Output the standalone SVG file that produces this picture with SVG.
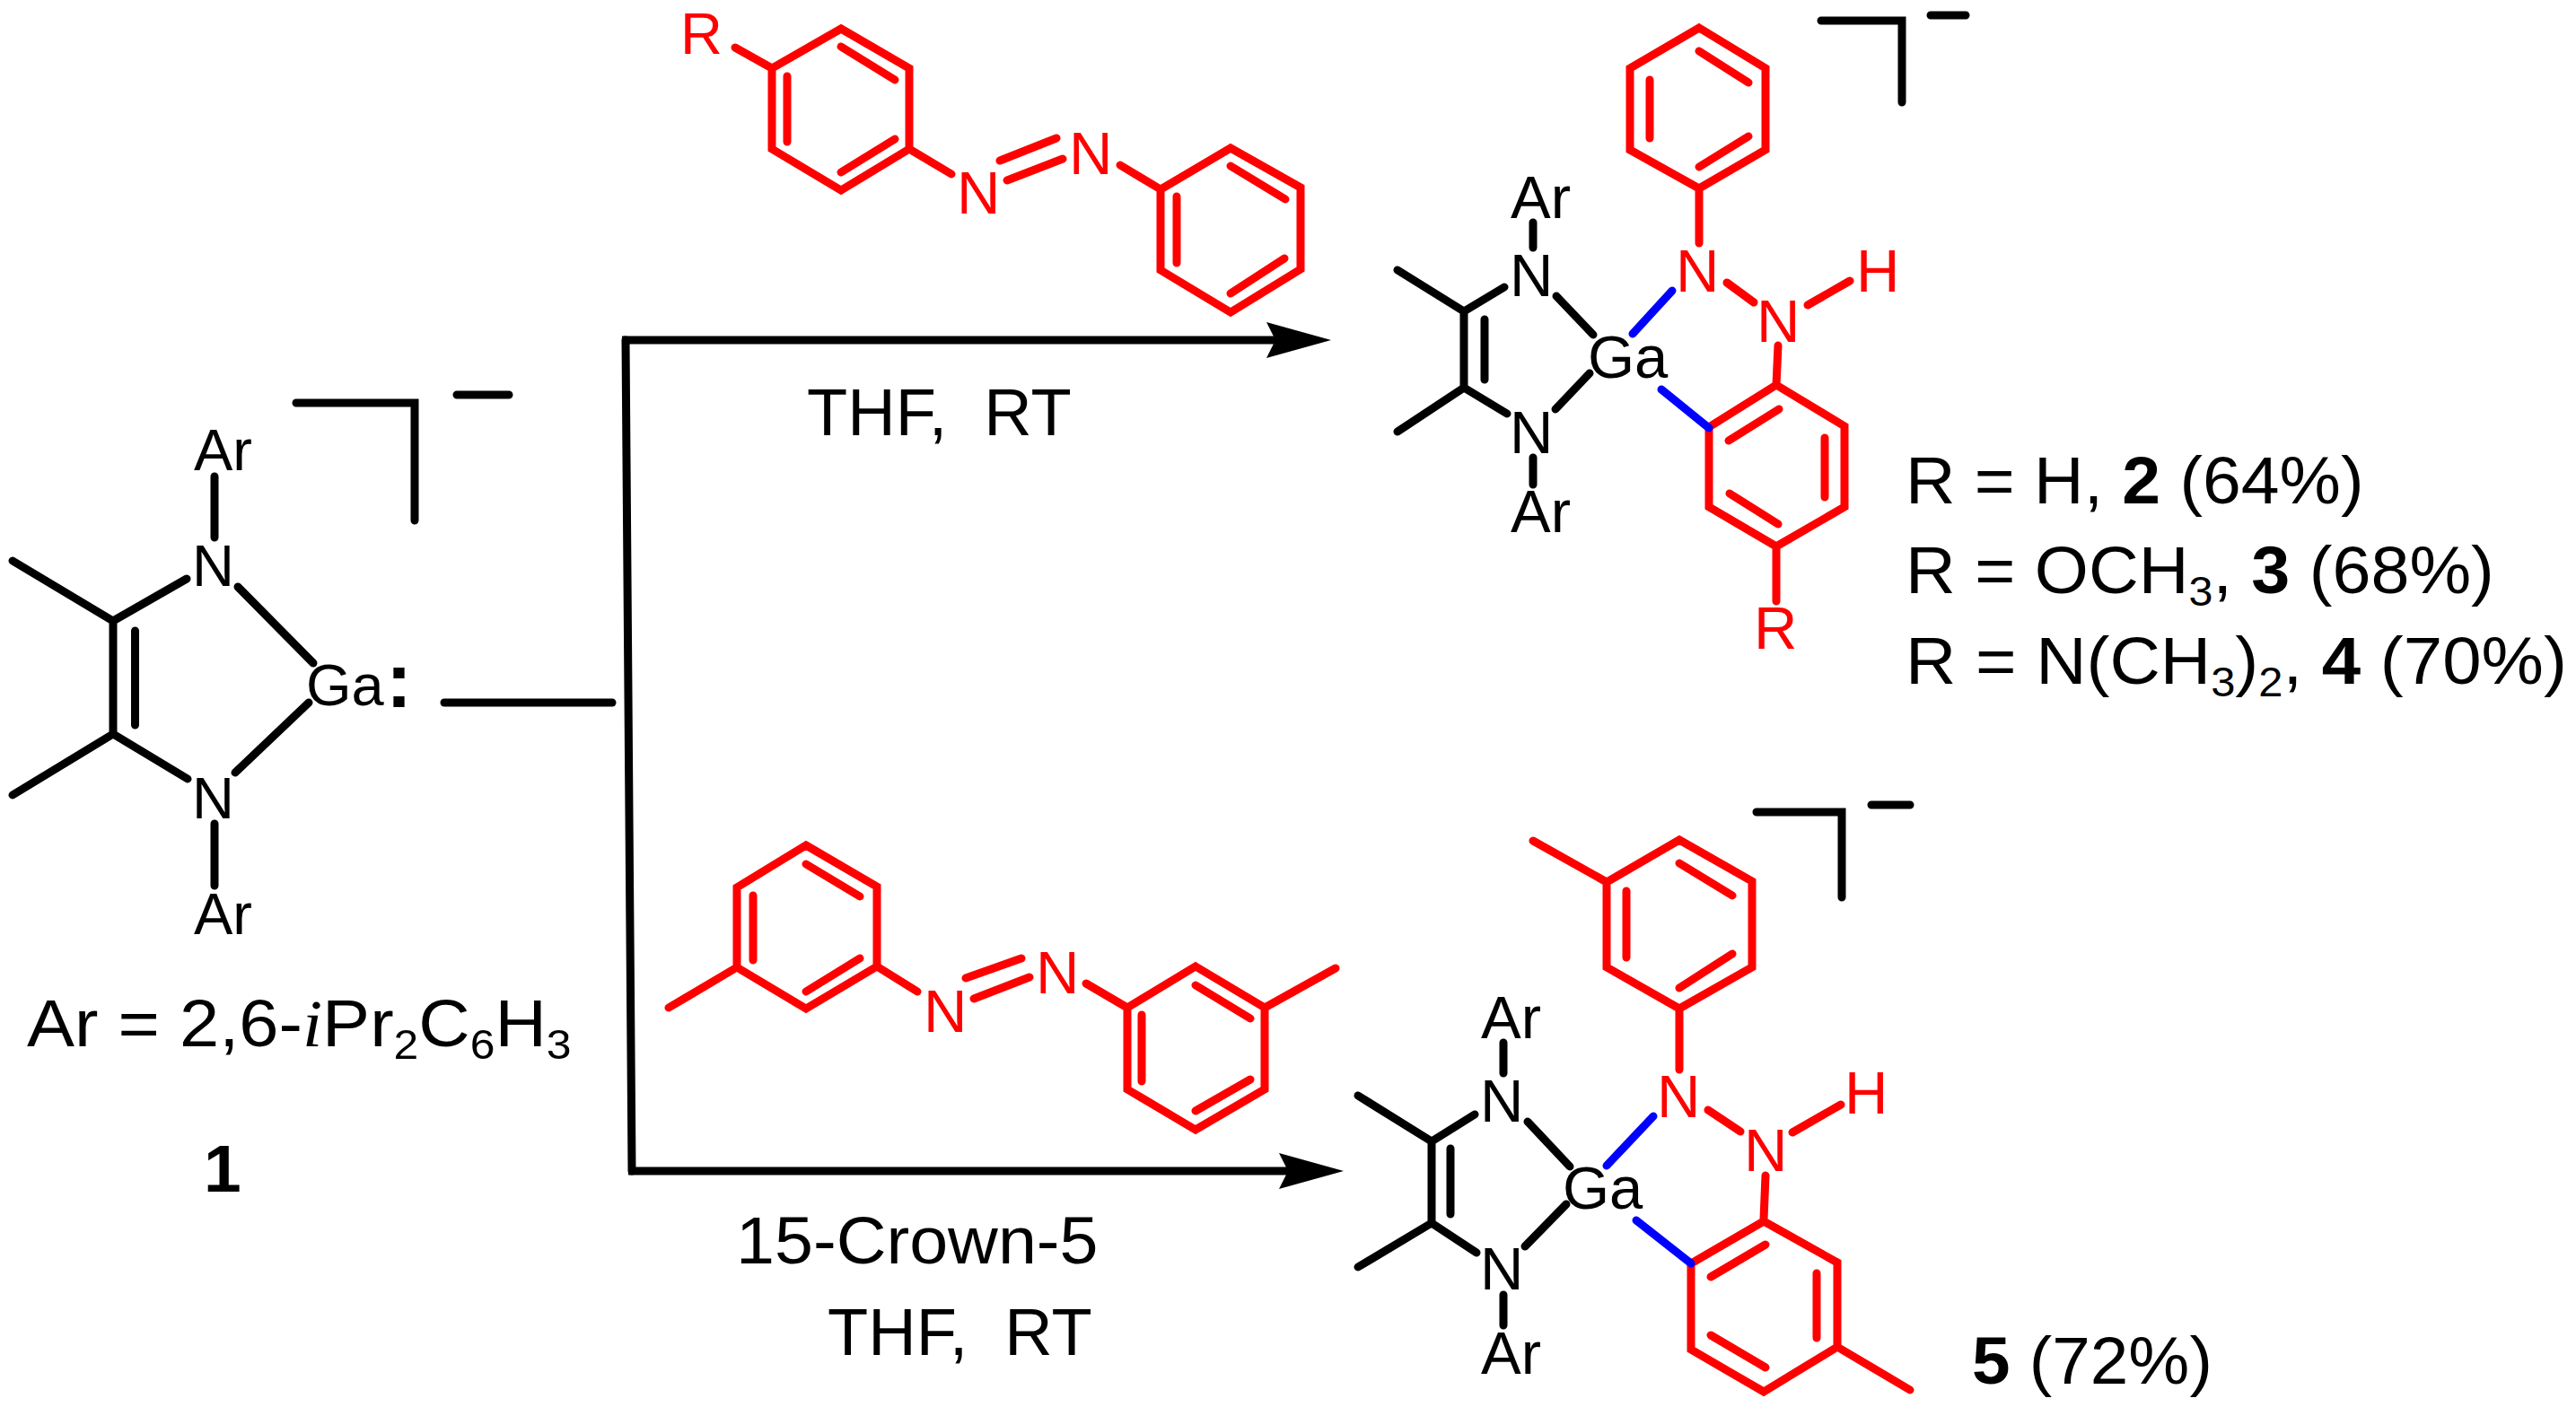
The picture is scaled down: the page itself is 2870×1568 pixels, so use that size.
<svg xmlns="http://www.w3.org/2000/svg" width="2870" height="1568" viewBox="0 0 2870 1568">
<defs>
<style>
text{font-family:"Liberation Sans",Arial,sans-serif;white-space:pre}
.a{font-size:65px}
.p{font-size:67px}
.l{font-size:75px}
.k{fill:#000}
.r{fill:#f00}
.s{font-size:47px}
.b{font-weight:bold}
.i{font-family:"Liberation Serif",serif;font-style:italic}
path{fill:none;stroke-width:9;stroke-linecap:round;stroke-linejoin:miter}
.bk{stroke:#000}
.rd{stroke:#f00}
.bl{stroke:#00f}
</style>
<marker id="head" viewBox="0 0 72 40" refX="10" refY="20" markerWidth="72" markerHeight="40" markerUnits="userSpaceOnUse" orient="auto">
<polygon points="0,0 72,20 0,40 10,20" fill="#000"/>
</marker>
</defs>
<rect width="2870" height="1568" fill="#fff"/>
<g id="connectors">
<path class="bk" d="M495 783H682"/>
<path class="bk" d="M697 379L704 1305"/>
<path class="bk" style="stroke-linecap:butt" d="M693 379H1421" marker-end="url(#head)"/>
<path class="bk" style="stroke-linecap:butt" d="M700 1305H1435" marker-end="url(#head)"/>
</g>
<g id="compound-1">
<path class="bk" d="M330 449H462V580M509 440H567"/>
<path class="bk" d="M239 531V599M14 625L126 692L208 645M126 692V818M150.500 703V808M14 886L126 818L209 868M265 654L349 739M344 783L262 861M239 918V987"/>
<text class="a k" x="216" y="524">Ar</text>
<text class="a k" x="214" y="653">N</text>
<text class="a k" x="341" y="786">Ga</text>
<text class="b k" style="font-size:87px" x="430" y="788">:</text>
<text class="a k" x="214" y="912">N</text>
<text class="a k" x="216" y="1041">Ar</text>
<text class="l k" transform="translate(30 1166) scale(1.06 1)">Ar = 2,6-<tspan class="i">i</tspan>Pr<tspan class="s" dy="14">2</tspan><tspan dy="-14">C</tspan><tspan class="s" dy="14">6</tspan><tspan dy="-14">H</tspan><tspan class="s" dy="14">3</tspan></text>
<text class="l k b" x="227" y="1328">1</text>
</g>
<g id="azo-top">
<path class="rd" d="M937 32L1013 76V166L937 212L860 166V76ZM937 52L997 89M997 155L937 192M877 85V158M819 53L860 76M1013 166L1060 194M1114 179L1177 154M1122 201L1184 177M1248 184L1293 211M1371 165L1449 209V300L1371 348L1293 301V211ZM1371 185L1432 222M1431 288L1371 327M1311 219V293"/>
<text class="a r" x="758" y="60">R</text>
<text class="p r" x="1066" y="238">N</text>
<text class="p r" x="1191" y="194">N</text>
</g>
<text class="l k" id="cond-top" style="font-size:74px" x="899" y="485">THF,  RT</text>
<g id="compound-2-4">
<path class="bk" d="M2029 23H2119V114M2151 17H2190"/>
<path class="bk" d="M1708 248V276M1557 301L1631 347L1676 320M1631 347V432M1654 356V423M1557 481L1631 432L1679 461M1734 330L1775 373M1771 416L1733 456M1708 510V540"/>
<path class="rd" d="M1893 31L1967 76V167L1893 210L1816 167V76ZM1893 57L1948 92M1948 152L1893 186M1838 89V154M1893 210V271M1924 315L1954 337M2014 340L2061 313M1981 385L1979 429M1979 429L2055 475V565L1979 609L1904 565V476ZM1982 456L1926 491M2033 488V554M1927 550L1981 584M1979 609V670"/>
<path class="bl" d="M1863 324L1819 372M1851 434L1904 477"/>
<text class="p k" x="1683" y="243">Ar</text>
<text class="p k" x="1682" y="330">N</text>
<text class="p k" x="1769" y="421">Ga</text>
<text class="p k" x="1682" y="505">N</text>
<text class="p k" x="1683" y="593">Ar</text>
<text class="p r" x="1867" y="325">N</text>
<text class="p r" x="1957" y="381">N</text>
<text class="p r" x="2068" y="325">H</text>
<text class="p r" x="1954" y="723">R</text>
</g>
<g id="labels-2-4">
<text class="l k" transform="translate(2123 561) scale(1.025 1)">R = H, <tspan class="b">2</tspan> (64%)</text>
<text class="l k" transform="translate(2123 661) scale(1.03 1)">R = OCH<tspan class="s" dy="14">3</tspan><tspan dy="-14">, </tspan><tspan class="b">3</tspan> (68%)</text>
<text class="l k" transform="translate(2123 762) scale(1.04 1)">R = N(CH<tspan class="s" dy="14">3</tspan><tspan dy="-14">)</tspan><tspan class="s" dy="14">2</tspan><tspan dy="-14">, </tspan><tspan class="b">4</tspan> (70%)</text>
</g>
<g id="azo-bottom">
<path class="rd" d="M898 942L977 988V1077L898 1124L821 1078V989ZM745 1123L821 1078M898 963L958 999M958 1068L898 1105M839 998V1070M977 1077L1022 1105M1076 1090L1138 1068M1085 1113L1147 1089M1210 1096L1256 1123M1332 1077L1409 1123V1214L1332 1259L1256 1214V1123ZM1409 1123L1488 1079M1332 1098L1393 1135M1393 1203L1332 1238M1272 1131V1205"/>
<text class="p r" x="1029" y="1150">N</text>
<text class="p r" x="1154" y="1107">N</text>
</g>
<text class="l k" id="cond-bottom-1" transform="translate(820 1408) scale(1.03 1)">15-Crown-5</text>
<text class="l k" id="cond-bottom-2" style="font-size:74px" x="922" y="1510">THF,  RT</text>
<g id="compound-5">
<path class="bk" d="M1957 905H2052V1000M2085 897H2128"/>
<path class="bk" d="M1675 1162V1196M1513 1221L1595 1272L1643 1242M1595 1272V1363M1616 1280V1353M1513 1412L1595 1363L1645 1396M1702 1250L1749 1300M1745 1342L1699 1389M1675 1443V1477"/>
<path class="rd" d="M1871 936L1952 982V1078L1871 1124L1790 1078V983ZM1708 937L1790 983M1871 962L1930 998M1930 1063L1871 1101M1812 993V1067M1871 1124V1192M1903 1237L1939 1261M1997 1262L2051 1231M1967 1310L1965 1359M1965 1361L2047 1407V1501L1965 1551L1884 1504V1408ZM1967 1387L1906 1423M2024 1419V1491M1906 1488L1967 1524M2047 1501L2128 1549"/>
<path class="bl" d="M1842 1244L1790 1299M1823 1360L1884 1408"/>
<text class="p k" x="1650" y="1157">Ar</text>
<text class="p k" x="1649" y="1250">N</text>
<text class="p k" x="1741" y="1347">Ga</text>
<text class="p k" x="1649" y="1437">N</text>
<text class="p k" x="1650" y="1531">Ar</text>
<text class="p r" x="1846" y="1245">N</text>
<text class="p r" x="1943" y="1305">N</text>
<text class="p r" x="2055" y="1241">H</text>
</g>
<text class="l k" id="label-5" transform="translate(2197 1542) scale(1.02 1)"><tspan class="b">5</tspan> (72%)</text>
</svg>
